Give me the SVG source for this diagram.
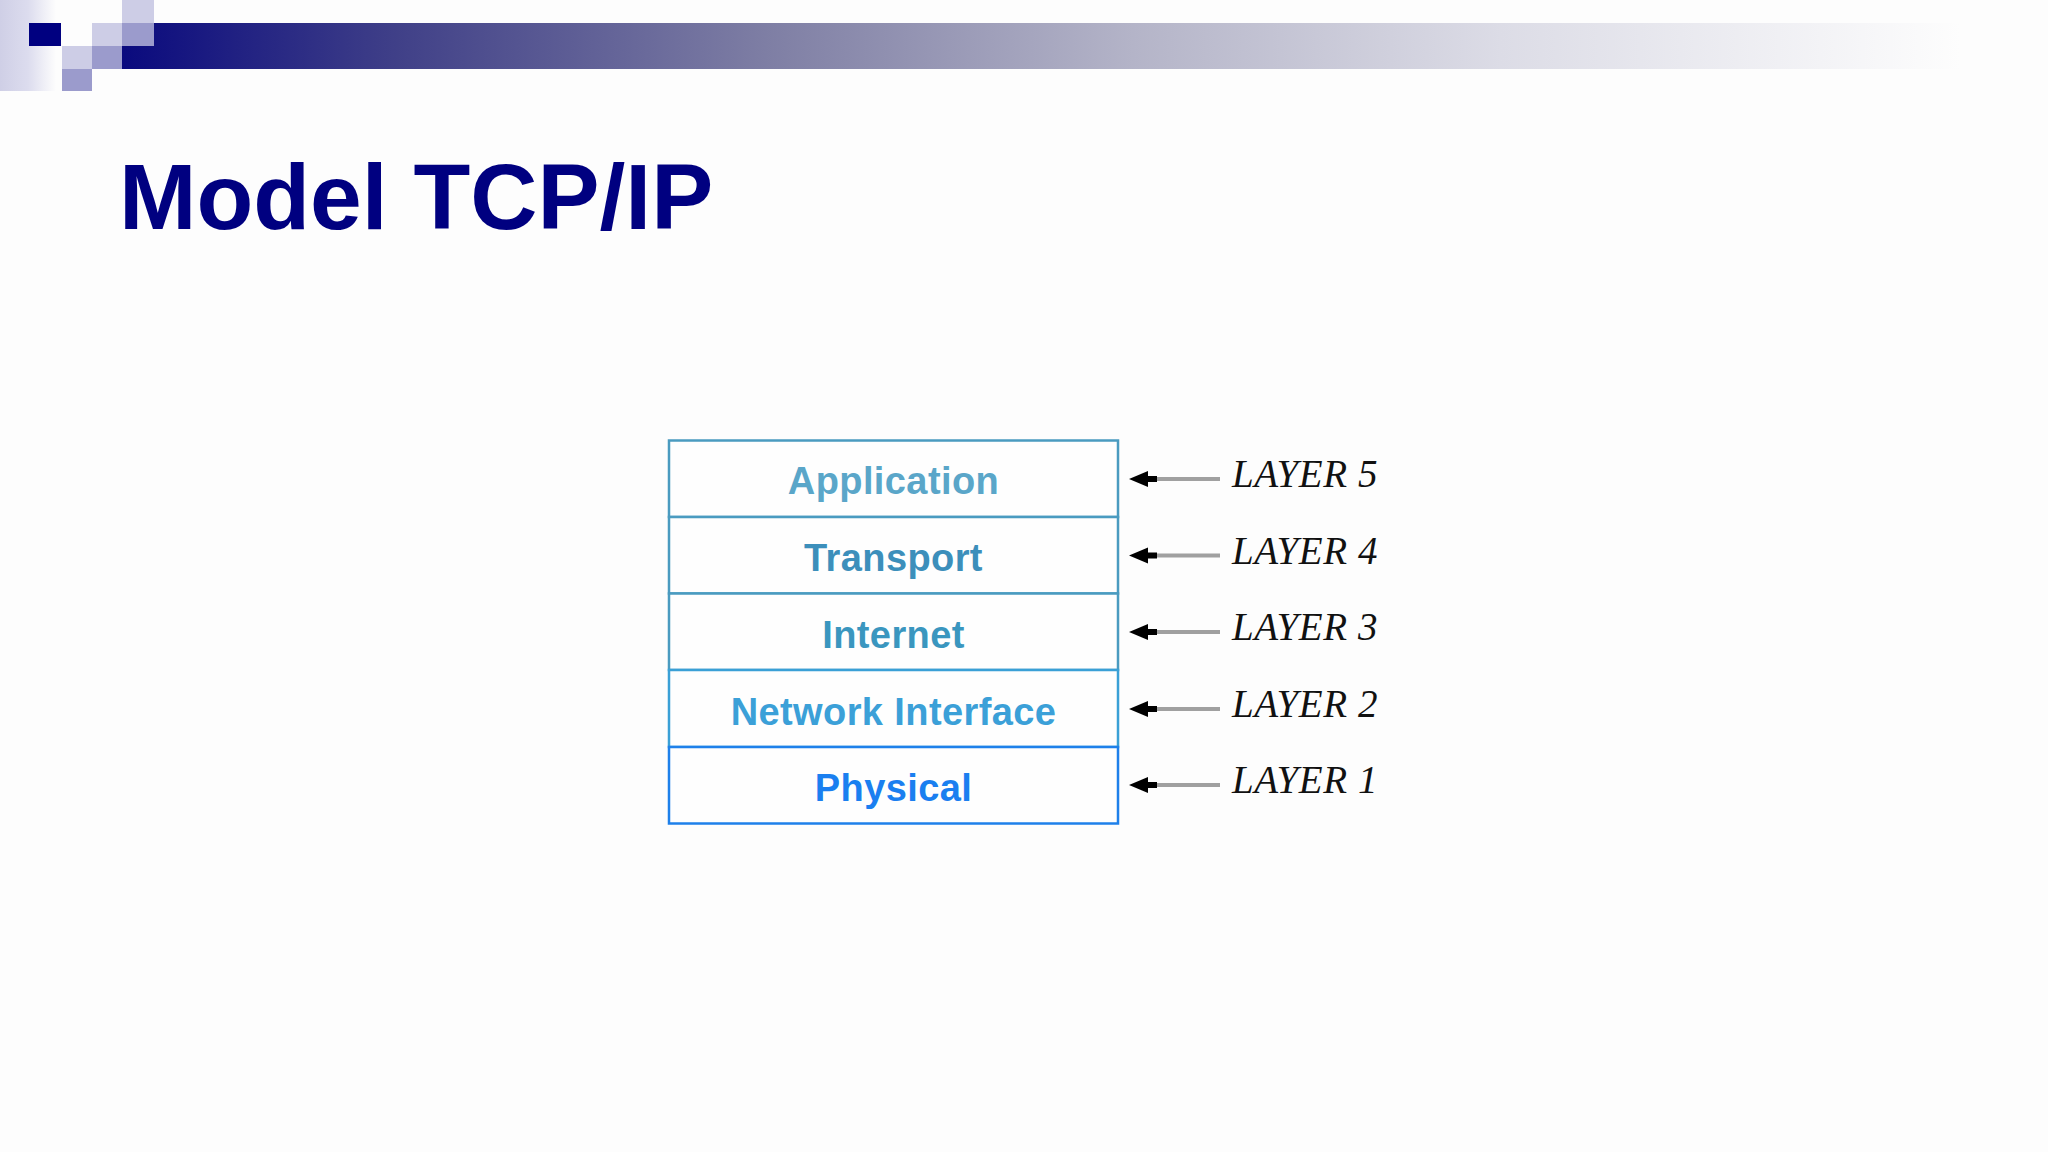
<svg xmlns="http://www.w3.org/2000/svg" width="2048" height="1152" viewBox="0 0 2048 1152">
<defs>
<linearGradient id="bar" x1="122" y1="0" x2="1960" y2="0" gradientUnits="userSpaceOnUse">
<stop offset="0" stop-color="#0a0a7e"/>
<stop offset="0.15" stop-color="#404088"/>
<stop offset="0.35" stop-color="#7e7ea4"/>
<stop offset="0.55" stop-color="#b4b4c8"/>
<stop offset="0.75" stop-color="#dcdce6"/>
<stop offset="1" stop-color="#fdfdfd"/>
</linearGradient>
<linearGradient id="strip" x1="0" y1="0" x2="56" y2="0" gradientUnits="userSpaceOnUse">
<stop offset="0" stop-color="#cfcfe6"/>
<stop offset="0.5" stop-color="#dcdcee"/>
<stop offset="1" stop-color="#fdfdfd"/>
</linearGradient>
<style>
.light{fill:#cdcde6}
.mid{fill:#9b9bcc}
.box{fill:#fefefe;stroke:#4a9bc0;stroke-width:2.5}
.lbl{font-family:"Liberation Sans",Arial,sans-serif;font-weight:bold;font-size:38px;letter-spacing:0.4px;text-anchor:middle}
.layer{font-family:"Liberation Serif","Times New Roman",serif;font-style:italic;font-size:39px;letter-spacing:0.6px;fill:#111}
.shaft{stroke:#a0a0a0;stroke-width:4}
.tip{fill:#000}
</style>
</defs>
<rect width="2048" height="1152" fill="#fdfdfd"/>
<g id="header">
<rect x="0" y="0" width="56" height="91" fill="url(#strip)"/>
<rect x="122" y="23" width="1926" height="46" fill="url(#bar)"/>
<rect x="29" y="23" width="32" height="23" fill="#000080"/>
<rect class="light" x="92" y="23" width="30" height="23"/>
<rect class="light" x="122" y="0" width="32" height="23"/>
<rect class="mid" x="122" y="23" width="32" height="23"/>
<rect class="light" x="62" y="46" width="30" height="23"/>
<rect class="mid" x="92" y="46" width="30" height="23"/>
<rect class="mid" x="62" y="69" width="30" height="22"/>
</g>
<text id="title" x="119" y="229" font-family="Liberation Sans, Arial, sans-serif" font-weight="bold" font-size="93" fill="#000080">Model TCP/IP</text>
<g id="node-application">
<rect class="box" x="669" y="440.5" width="449" height="76.5"/>
<text class="lbl" x="893.5" y="494" fill="#5aa6c9">Application</text>
</g>
<g id="node-transport">
<rect class="box" x="669" y="517" width="449" height="76.5"/>
<text class="lbl" x="893.5" y="571" fill="#3c8fbb">Transport</text>
</g>
<g id="node-internet">
<rect class="box" x="669" y="593.5" width="449" height="76.5"/>
<text class="lbl" x="893.5" y="648" fill="#3a96bf">Internet</text>
</g>
<g id="node-network-interface">
<rect class="box" x="669" y="670" width="449" height="77" style="stroke:#3aa0d6"/>
<text class="lbl" x="893.5" y="725" fill="#3ba0d8">Network Interface</text>
</g>
<g id="node-physical">
<rect class="box" x="669" y="747" width="449" height="76.5" style="stroke:#1e80ea"/>
<text class="lbl" x="893.5" y="801" fill="#1a7ff0">Physical</text>
</g>
<g id="connectors">
<g>
<line class="shaft" x1="1155" y1="479" x2="1220" y2="479"/>
<rect class="tip" x="1140" y="476" width="17" height="6"/>
<path class="tip" d="M1129,479 L1148,471 L1148,487 Z"/>
</g>
<g>
<line class="shaft" x1="1155" y1="555.5" x2="1220" y2="555.5"/>
<rect class="tip" x="1140" y="552.5" width="17" height="6"/>
<path class="tip" d="M1129,555.5 L1148,547.5 L1148,563.5 Z"/>
</g>
<g>
<line class="shaft" x1="1155" y1="632" x2="1220" y2="632"/>
<rect class="tip" x="1140" y="629" width="17" height="6"/>
<path class="tip" d="M1129,632 L1148,624 L1148,640 Z"/>
</g>
<g>
<line class="shaft" x1="1155" y1="709" x2="1220" y2="709"/>
<rect class="tip" x="1140" y="706" width="17" height="6"/>
<path class="tip" d="M1129,709 L1148,701 L1148,717 Z"/>
</g>
<g>
<line class="shaft" x1="1155" y1="785" x2="1220" y2="785"/>
<rect class="tip" x="1140" y="782" width="17" height="6"/>
<path class="tip" d="M1129,785 L1148,777 L1148,793 Z"/>
</g>
</g>
<g id="layer-labels">
<text class="layer" x="1232" y="487">LAYER 5</text>
<text class="layer" x="1232" y="563.5">LAYER 4</text>
<text class="layer" x="1232" y="640">LAYER 3</text>
<text class="layer" x="1232" y="717">LAYER 2</text>
<text class="layer" x="1232" y="793">LAYER 1</text>
</g>
</svg>
